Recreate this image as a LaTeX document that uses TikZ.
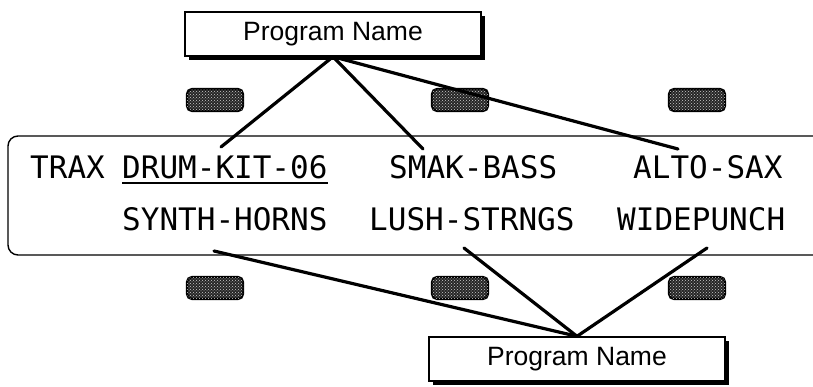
\documentclass[tikz,border=0pt]{standalone}
\usepackage{fontspec}
\setmainfont{Liberation Sans}
\newfontfamily\lcdfont{DejaVu Sans Mono}
\usetikzlibrary{patterns,shadows}
\begin{document}
\begin{tikzpicture}[x=1pt,y=-1pt,
  namebox/.style={draw=black, line width=1.4pt, fill=white, minimum width=296pt, minimum height=44pt,
    inner sep=0pt, font=\fontsize{26.5}{26.5}\selectfont,
    drop shadow={shadow xshift=4pt, shadow yshift=-4pt, fill=black, opacity=1}},
  btn/.style={draw=black, line width=2.2pt, rounded corners=5pt, fill=black!85,
    minimum width=56pt, minimum height=22pt, inner sep=0pt,
    postaction={pattern=crosshatch dots, pattern color=white!80!black}},
  lcd/.style={anchor=base west, inner sep=0pt, font=\lcdfont\fontsize{31}{31}\selectfont},
  conn/.style={line width=3.2pt, line cap=round},
  display/.style={draw=black, line width=1.4pt, rounded corners=10pt}]
\useasboundingbox (0,0) rectangle (813,387);

% display
\draw[display] (8,136) rectangle (830,255);

% text
\node[lcd] (trax) at (30,179) {TRAX};
\node[lcd] (drum) at (122,179) {DRUM-KIT-06};
\node[lcd] (smak) at (389,179) {SMAK-BASS};
\node[lcd] (alto) at (633,179) {ALTO-SAX};
\node[lcd] (synth) at (122,230) {SYNTH-HORNS};
\node[lcd] (lush) at (369,230) {LUSH-STRNGS};
\node[lcd] (wide) at (617,230) {WIDEPUNCH};
\draw[line width=1.8pt] ([yshift=-4pt]drum.base west) -- ([yshift=-4pt]drum.base east);

% buttons
\node[btn] (b1) at (215,100) {};
\node[btn] (b2) at (460,100) {};
\node[btn] (b3) at (697,100) {};
\node[btn] (b4) at (215,288) {};
\node[btn] (b5) at (460,288) {};
\node[btn] (b6) at (697,288) {};

% name boxes
\node[namebox] (pn1) at (333,34) {Program Name};
\node[namebox] (pn2) at (577,359) {Program Name};

% connector end points
\coordinate (t1) at (221,147);
\coordinate (t2) at (423,149);
\coordinate (t3) at (678,149);
\coordinate (u1) at (214,251);
\coordinate (u2) at (464,248);
\coordinate (u3) at (707,248);

\draw[conn] (pn1.south) -- (t1);
\draw[conn] (pn1.south) -- (t2);
\draw[conn] (pn1.south) -- (t3);
\draw[conn] (pn2.north) -- (u1);
\draw[conn] (pn2.north) -- (u2);
\draw[conn] (pn2.north) -- (u3);
\end{tikzpicture}
\end{document}
